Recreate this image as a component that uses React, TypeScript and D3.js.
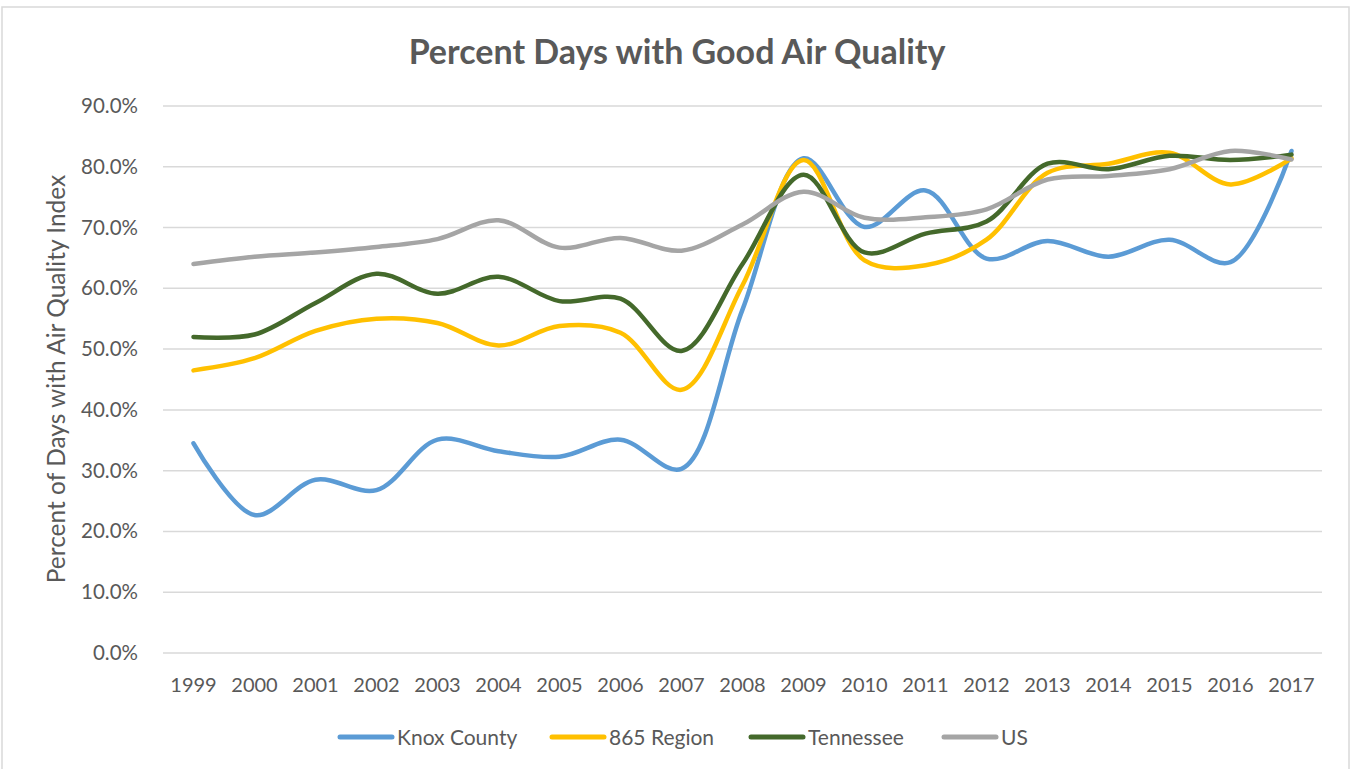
import * as d3 from "d3";

const years = ["1999", "2000", "2001", "2002", "2003", "2004", "2005", "2006", "2007", "2008", "2009", "2010", "2011", "2012", "2013", "2014", "2015", "2016", "2017"];
const knoxCounty = [34.5, 22.7, 28.5, 26.8, 35.1, 33.2, 32.3, 35.1, 30.3, 56.5, 81.4, 70.1, 76.1, 64.9, 67.8, 65.2, 68.0, 64.3, 82.6];
const region865 = [46.5, 48.5, 53.0, 55.0, 54.3, 50.6, 53.8, 52.7, 43.3, 60.5, 81.1, 64.6, 63.8, 68.0, 79.0, 80.5, 82.3, 77.1, 81.4];
const tennessee = [52.0, 52.4, 57.6, 62.4, 59.1, 61.9, 57.9, 58.3, 49.7, 64.0, 78.7, 65.9, 69.0, 71.0, 80.5, 79.6, 81.8, 81.1, 82.0];
const us = [64.0, 65.2, 65.9, 66.8, 68.1, 71.2, 66.7, 68.3, 66.2, 70.5, 75.9, 71.6, 71.7, 73.0, 77.9, 78.5, 79.6, 82.6, 81.2];
const yTicks = [0, 10, 20, 30, 40, 50, 60, 70, 80, 90];

const seriesNames = ["Knox County", "865 Region", "Tennessee", "US"];
const seriesValues = [knoxCounty, region865, tennessee, us];
const colors = ["#5B9BD5", "#FFC000", "#44692B", "#A5A5A5"];

export default function App() {
  const width = 1352;
  const height = 769;
  const plot = { left: 163, right: 1322, top: 106, bottom: 653 };

  const x = d3.scaleBand<string>().domain(years).range([plot.left, plot.right]);
  const y = d3.scaleLinear().domain([0, 90]).range([plot.bottom, plot.top]);
  const cx = (yr: string) => (x(yr) ?? 0) + x.bandwidth() / 2;

  const line = d3
    .line<number>()
    .x((_, i) => cx(years[i]))
    .y((d) => y(d))
    .curve(d3.curveCatmullRom.alpha(0.5));

  const font = "Lato, 'Open Sans', sans-serif";
  const textColor = "#595959";

  // legend layout
  const legendStarts = [338, 550, 749, 942];

  return (
    <div style={{ position: "absolute", left: 0, top: 0 }}>
      <svg width={width} height={height} style={{ display: "block", background: "#fff" }}>
        <rect x={2} y={7} width={1347} height={770} fill="#fff" stroke="#D9D9D9" strokeWidth={1.5} />

        <text x={677} y={64} textAnchor="middle" fontFamily={font} fontWeight={700} fontSize={34} fill={textColor}>
          Percent Days with Good Air Quality
        </text>

        {yTicks.map((t) => (
          <g key={t}>
            <line x1={plot.left} x2={plot.right} y1={y(t)} y2={y(t)} stroke="#D9D9D9" strokeWidth={1.5} />
            <text x={138} y={y(t) + 7} textAnchor="end" fontFamily={font} fontSize={20.5} fill={textColor}>
              {t.toFixed(1)}%
            </text>
          </g>
        ))}

        {years.map((yr) => (
          <text key={yr} x={cx(yr)} y={692} textAnchor="middle" fontFamily={font} fontSize={20} fill={textColor}>
            {yr}
          </text>
        ))}

        <text
          transform={`translate(65, ${(plot.top + plot.bottom) / 2 - 0.5}) rotate(-90)`}
          textAnchor="middle"
          fontFamily={font}
          fontSize={24.5}
          fill={textColor}
        >
          Percent of Days with Air Quality Index
        </text>

        {seriesValues.map((vals, i) => (
          <path
            key={seriesNames[i]}
            d={line(vals) ?? ""}
            fill="none"
            stroke={colors[i]}
            strokeWidth={4.5}
            strokeLinecap="round"
            strokeLinejoin="round"
          />
        ))}

        {seriesNames.map((name, i) => (
          <g key={name} transform={`translate(${legendStarts[i]}, 737)`}>
            <line x1={2} x2={54} y1={0} y2={0} stroke={colors[i]} strokeWidth={5} strokeLinecap="round" />
            <text x={59} y={7.5} fontFamily={font} fontSize={21} fill={textColor}>
              {name}
            </text>
          </g>
        ))}
      </svg>
    </div>
  );
}
